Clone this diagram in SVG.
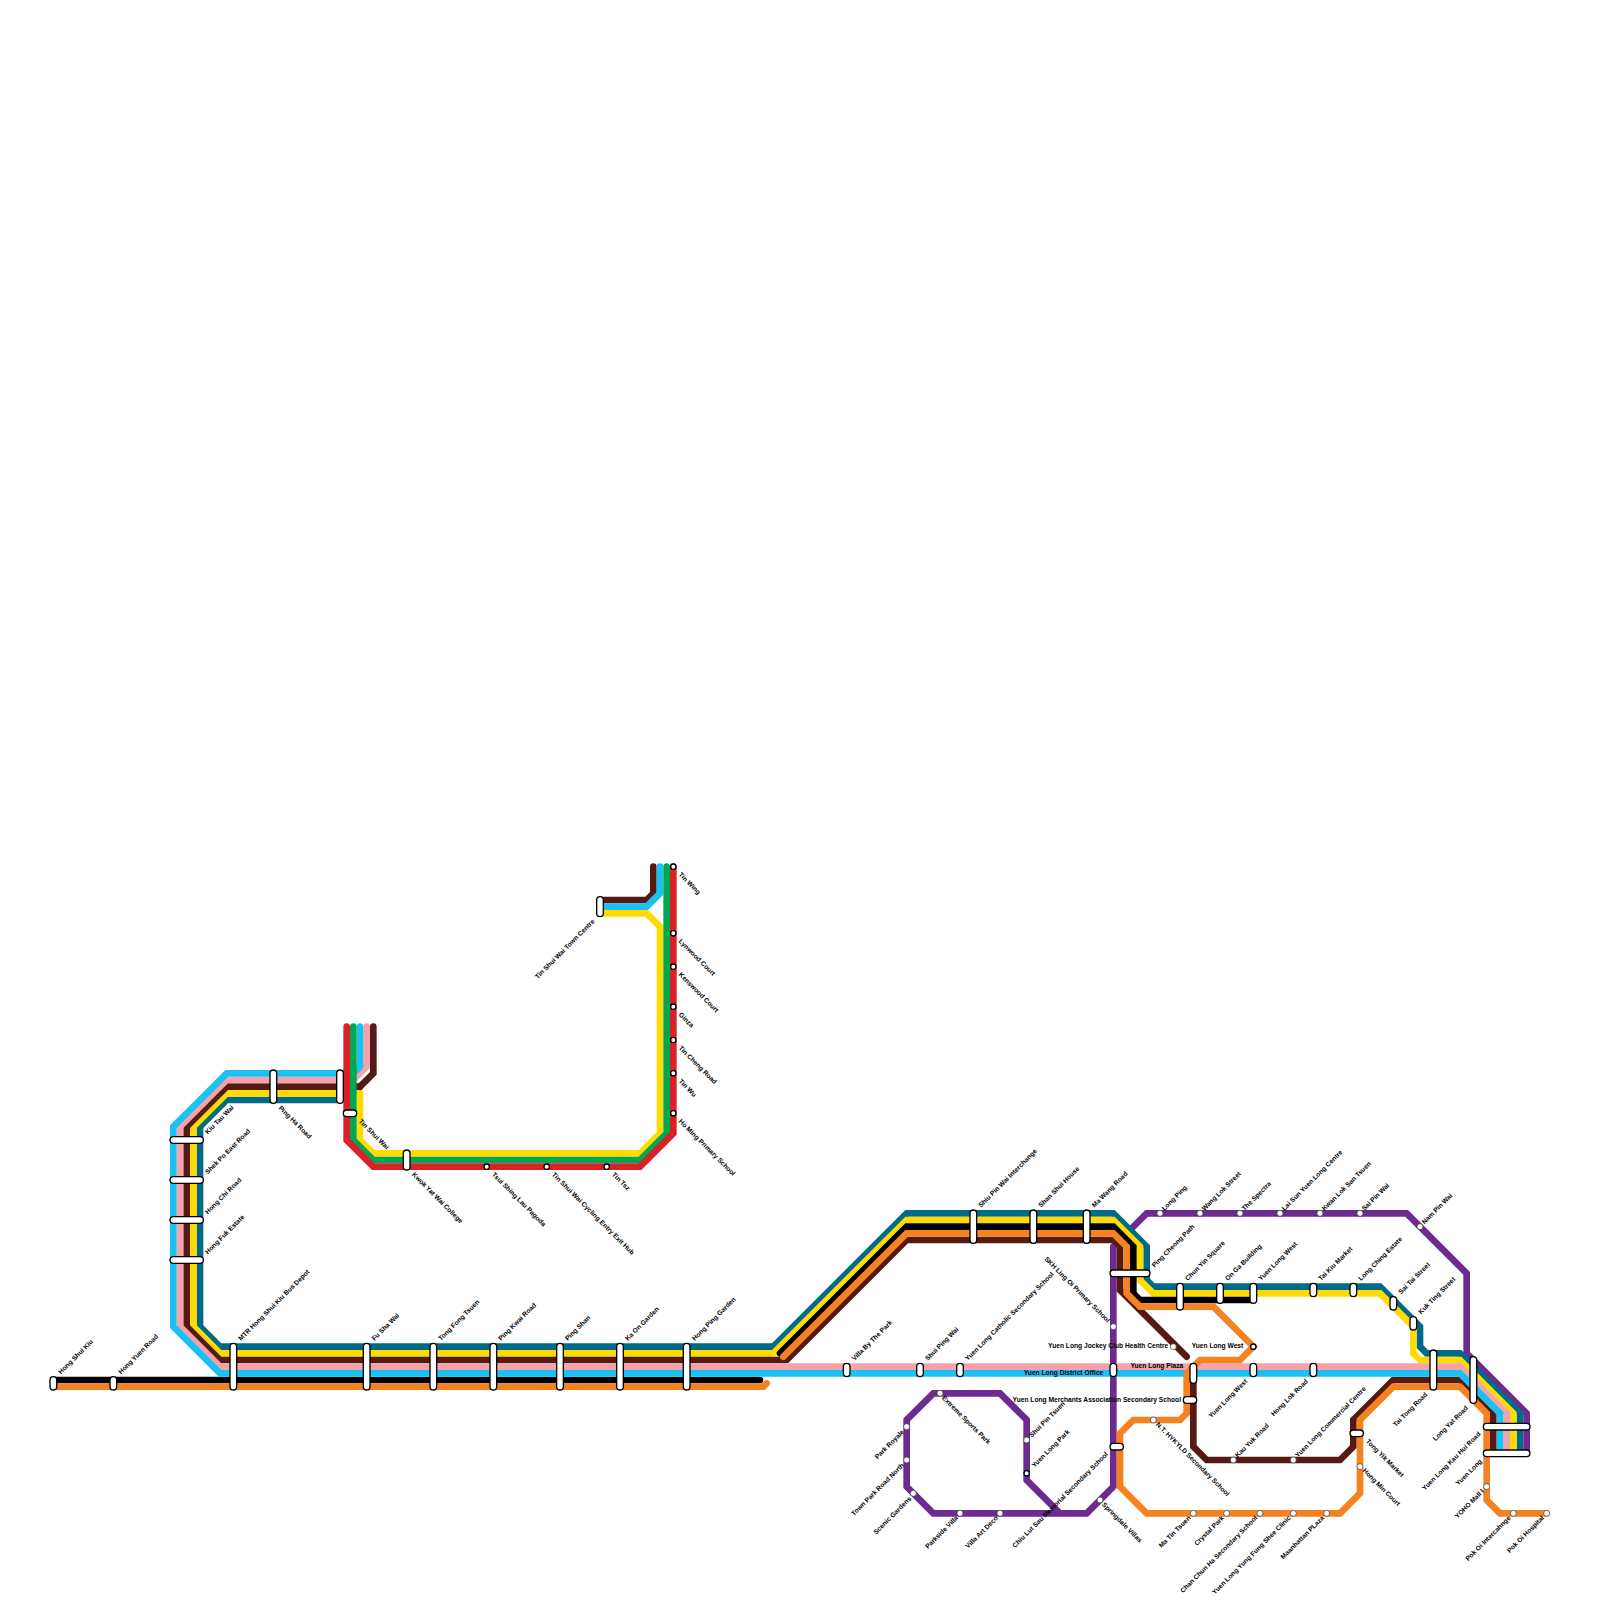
<svg xmlns="http://www.w3.org/2000/svg" width="1600" height="1600" viewBox="0 0 1600 1600">
<style>
.l{fill:none;stroke-width:6.67;stroke-linecap:round;stroke-linejoin:miter}
.teal{stroke:#006a87}.yellow{stroke:#ffdc00}.brown{stroke:#551a14}.black{stroke:#000}.pink{stroke:#f5a3ab}.cyan{stroke:#1bc1f3}.orange{stroke:#f58220}.purple{stroke:#6d2b90}.red{stroke:#da2128}.green{stroke:#00a651}
.st{fill:#fff;stroke:#000;stroke-width:1.33}
.t{fill:#fff;stroke:#333;stroke-width:.7}
text{font-family:"Liberation Sans",Arial,sans-serif;font-size:6.67px;font-weight:bold;fill:#000;dominant-baseline:central}
.e{text-anchor:end}
</style>
<rect width="1600" height="1600" fill="#fff"/>
<g id="connectors">
<polyline class="l purple" points="1130,1230 1146.67,1213.33 1406.67,1213.33 1466.67,1273.33 1466.67,1353.33 1526.67,1413.33 1526.67,1453.33"/>
<polyline class="l purple" points="1113.33,1246.67 1113.33,1486.67 1086.67,1513.33 933.33,1513.33 906.67,1486.67 906.67,1420 933.33,1393.33 1000,1393.33 1026.67,1420 1026.67,1480 1060,1513.33"/>
<polyline class="l teal" points="340,1100 226.67,1100 200,1126.67 200,1326.67 220,1346.67 773.33,1346.67 906.67,1213.33 1113.33,1213.33 1146.67,1246.67 1146.67,1280 1153.33,1286.67 1380,1286.67 1420,1326.67 1420,1346.67 1426.67,1353.33 1460,1353.33 1520,1413.33 1520,1453.33"/>
<polyline class="l yellow" points="360,1093.33 226.67,1093.33 193.33,1126.67 193.33,1326.67 220,1353.33 773.33,1353.33 906.67,1220 1113.33,1220 1140,1246.67 1140,1280 1153.33,1293.33 1380,1293.33 1413.33,1326.67 1413.33,1353.33 1420,1360 1460,1360 1513.33,1413.33 1513.33,1453.33"/>
<polyline class="l yellow" points="360,1093.33 360,1140 373.33,1153.33 640,1153.33 660,1133.33 660,926.67 646.67,913.33 600,913.33"/>
<polyline class="l brown" points="360,1086.67 226.67,1086.67 186.67,1126.67 186.67,1326.67 220,1360 786.67,1360 906.67,1240 1113.33,1240 1120,1246.67 1120,1290 1186.67,1356.67"/>
<polyline class="l brown" points="360,1086.67 373.33,1073.33 373.33,1026.67"/>
<polyline class="l brown" points="1193.33,1373.33 1193.33,1446.67 1206.67,1460 1340,1460 1353.33,1446.67 1353.33,1420 1393.33,1380 1460,1380 1493.33,1413.33 1493.33,1453.33"/>
<polyline class="l brown" points="600,900 646.67,900 653.33,893.33 653.33,866.67"/>
<polyline class="l black" points="53.33,1380 760,1380"/>
<polyline class="l black" points="780,1353.33 906.67,1226.67 1113.33,1226.67 1133.33,1246.67 1133.33,1293.33 1140,1300 1253.33,1300"/>
<polyline class="l pink" points="366.67,1026.67 366.67,1066.67 353.33,1080 226.67,1080 180,1126.67 180,1326.67 220,1366.67 1460,1366.67 1506.67,1413.33 1506.67,1453.33"/>
<polyline class="l cyan" points="360,1026.67 360,1066.67 353.33,1073.33 226.67,1073.33 173.33,1126.67 173.33,1326.67 220,1373.33 1460,1373.33 1500,1413.33 1500,1453.33"/>
<polyline class="l cyan" points="600,906.67 646.67,906.67 660,893.33 660,866.67"/>
<polyline class="l orange" points="53.33,1386.67 763.33,1386.67 766.67,1383.33"/>
<polyline class="l orange" points="783.33,1356.67 906.67,1233.33 1113.33,1233.33 1126.67,1246.67 1126.67,1293.33 1140,1306.67 1213.33,1306.67 1253.33,1346.67 1240,1360 1200,1360 1186.67,1373.33 1186.67,1413.33 1180,1420 1133.33,1420 1120,1433.33 1120,1486.67 1146.67,1513.33 1340,1513.33 1360,1493.33 1360,1420 1393.33,1386.67 1460,1386.67 1486.67,1413.33 1486.67,1500 1500,1513.33 1546.67,1513.33"/>
<polyline class="l green" points="353.33,1026.67 353.33,1140 373.33,1160 640,1160 666.67,1133.33 666.67,866.67"/>
<polyline class="l red" points="346.67,1026.67 346.67,1140 373.33,1166.67 640,1166.67 673.33,1133.33 673.33,866.67"/>
</g>
<g id="hong-shui-kiu"><rect class="st" x="50" y="1376.67" width="6.67" height="13.33" rx="3.33"/><text transform="translate(59.3 1372.7) rotate(-45)">Hong Shui Kiu</text></g>
<g id="hong-yuen-road"><rect class="st" x="110" y="1376.67" width="6.67" height="13.33" rx="3.33"/><text transform="translate(119.3 1372.7) rotate(-45)">Hong Yuen Road</text></g>
<g id="mtr-depot"><rect class="st" x="230" y="1343.33" width="6.67" height="46.67" rx="3.33"/><text transform="translate(239.3 1339.3) rotate(-45)">MTR Hong Shui Kiu Bus Depot</text></g>
<g id="fu-sha-wai"><rect class="st" x="363.33" y="1343.33" width="6.67" height="46.67" rx="3.33"/><text transform="translate(372.7 1339.3) rotate(-45)">Fu Sha Wai</text></g>
<g id="tong-fong-tsuen"><rect class="st" x="430" y="1343.33" width="6.67" height="46.67" rx="3.33"/><text transform="translate(439.3 1339.3) rotate(-45)">Tong Fong Tsuen</text></g>
<g id="ping-kwai-road"><rect class="st" x="490" y="1343.33" width="6.67" height="46.67" rx="3.33"/><text transform="translate(499.3 1339.3) rotate(-45)">Ping Kwai Road</text></g>
<g id="ping-shan"><rect class="st" x="556.67" y="1343.33" width="6.67" height="46.67" rx="3.33"/><text transform="translate(566 1339.3) rotate(-45)">Ping Shan</text></g>
<g id="ka-on-garden"><rect class="st" x="616.67" y="1343.33" width="6.67" height="46.67" rx="3.33"/><text transform="translate(626 1339.3) rotate(-45)">Ka On Garden</text></g>
<g id="hong-ping-garden"><rect class="st" x="683.33" y="1343.33" width="6.67" height="46.67" rx="3.33"/><text transform="translate(693 1339.3) rotate(-45)">Hong Ping Garden</text></g>
<g id="kiu-tau-wai"><rect class="st" x="170" y="1136.67" width="33.33" height="6.67" rx="3.33"/><text transform="translate(206 1132.7) rotate(-45)">Kiu Tau Wai</text></g>
<g id="shek-po-east-road"><rect class="st" x="170" y="1176.67" width="33.33" height="6.67" rx="3.33"/><text transform="translate(206 1172.7) rotate(-45)">Shek Po East Road</text></g>
<g id="hong-chi-road"><rect class="st" x="170" y="1216.67" width="33.33" height="6.67" rx="3.33"/><text transform="translate(206 1212.7) rotate(-45)">Hong Chi Road</text></g>
<g id="hong-fuk-estate"><rect class="st" x="170" y="1256.67" width="33.33" height="6.67" rx="3.33"/><text transform="translate(206 1252.7) rotate(-45)">Hong Fuk Estate</text></g>
<g id="ping-ha-road"><rect class="st" x="270" y="1070" width="6.67" height="33.33" rx="3.33"/><text transform="translate(280 1106.67) rotate(45)">Ping Ha Road</text></g>
<g id="unnamed-340"><rect class="st" x="336.67" y="1070" width="6.67" height="33.33" rx="3.33"/></g>
<g id="tin-shui-wai"><rect class="st" x="343.33" y="1110" width="13.33" height="6.67" rx="3.33"/><text transform="translate(360 1120) rotate(45)">Tin Shui Wai</text></g>
<g id="kwok-yat-wai-college"><rect class="st" x="403.33" y="1150" width="6.67" height="20" rx="3.33"/><text transform="translate(413.3 1173.3) rotate(45)">Kwok Yat Wai College</text></g>
<g id="tsui-shing-lau-pagoda"><circle class="st" cx="486.67" cy="1166.67" r="2.67"/><text transform="translate(493.3 1173.3) rotate(45)">Tsui Shing Lau Pagoda</text></g>
<g id="tsw-cycling-hub"><circle class="st" cx="546.67" cy="1166.67" r="2.67"/><text transform="translate(553.3 1173.3) rotate(45)">Tin Shui Wai Cycling Entry Exit Hub</text></g>
<g id="tin-tsz"><circle class="st" cx="606.67" cy="1166.67" r="2.67"/><text transform="translate(613.3 1173.3) rotate(45)">Tin Tsz</text></g>
<g id="tin-wing"><circle class="st" cx="673.33" cy="866.67" r="2.67"/><text transform="translate(680 873.3) rotate(45)">Tin Wing</text></g>
<g id="lynwood-court"><circle class="st" cx="673.33" cy="933.33" r="2.67"/><text transform="translate(680 940) rotate(45)">Lynwood Court</text></g>
<g id="kenswood-court"><circle class="st" cx="673.33" cy="966.67" r="2.67"/><text transform="translate(680 973.3) rotate(45)">Kenswood Court</text></g>
<g id="ginza"><circle class="st" cx="673.33" cy="1006.67" r="2.67"/><text transform="translate(680 1013.3) rotate(45)">Ginza</text></g>
<g id="tin-cheng-road"><circle class="st" cx="673.33" cy="1040" r="2.67"/><text transform="translate(680 1046.67) rotate(45)">Tin Cheng Road</text></g>
<g id="tin-wu"><circle class="st" cx="673.33" cy="1073.33" r="2.67"/><text transform="translate(680 1080) rotate(45)">Tin Wu</text></g>
<g id="ho-ming-primary"><circle class="st" cx="673.33" cy="1113.33" r="2.67"/><text transform="translate(680 1120) rotate(45)">Ho Ming Primary School</text></g>
<g id="tsw-town-centre"><rect class="st" x="596.67" y="896.67" width="6.67" height="20" rx="3.33"/><text class="e" transform="translate(593.3 920) rotate(-45)">Tin Shui Wai Town Centre</text></g>
<g id="villa-by-the-park"><rect class="st" x="843.33" y="1363.33" width="6.67" height="13.33" rx="3.33"/><text transform="translate(852.7 1359.3) rotate(-45)">Villa By The Park</text></g>
<g id="shui-ping-wai"><rect class="st" x="916.67" y="1363.33" width="6.67" height="13.33" rx="3.33"/><text transform="translate(926 1359.3) rotate(-45)">Shui Ping Wai</text></g>
<g id="yl-catholic"><rect class="st" x="956.67" y="1363.33" width="6.67" height="13.33" rx="3.33"/><text transform="translate(966 1359.3) rotate(-45)">Yuen Long Catholic Secondary School</text></g>
<g id="yl-district-office"><rect class="st" x="1110" y="1363.33" width="6.67" height="13.33" rx="3.33"/><text class="e" x="1103.3" y="1372.7">Yuen Long District Office</text></g>
<g id="shiu-pin-wai-interchange"><rect class="st" x="970" y="1210" width="6.67" height="33.33" rx="3.33"/><text transform="translate(979.3 1206) rotate(-45)">Shiu Pin Wai Interchange</text></g>
<g id="shan-shui-house"><rect class="st" x="1030" y="1210" width="6.67" height="33.33" rx="3.33"/><text transform="translate(1039.3 1206) rotate(-45)">Shan Shui House</text></g>
<g id="ma-wang-road"><rect class="st" x="1083.33" y="1210" width="6.67" height="33.33" rx="3.33"/><text transform="translate(1092.7 1206) rotate(-45)">Ma Wang Road</text></g>
<g id="skh-ling-oi"><circle class="t" cx="1113.33" cy="1326.67" r="3"/><text class="e" transform="translate(1109 1321) rotate(45)">SKH Ling Oi Primary School</text></g>
<g id="yl-jockey-club"><circle class="t" cx="1173.33" cy="1346.67" r="3"/><text class="e" x="1168.3" y="1345.7">Yuen Long Jockey Club Health Centre</text></g>
<g id="yl-west-orange"><circle class="st" cx="1253.33" cy="1346.67" r="2.67"/><text class="e" x="1243.3" y="1345.7">Yuen Long West</text></g>
<g id="yl-plaza"><rect class="st" x="1190" y="1363.33" width="6.67" height="20" rx="3.33"/><text class="e" x="1183.3" y="1365.7">Yuen Long Plaza</text></g>
<g id="yl-west-pink"><rect class="st" x="1250" y="1363.33" width="6.67" height="13.33" rx="3.33"/><text class="e" transform="translate(1246 1380) rotate(-45)">Yuen Long West</text></g>
<g id="hong-lok-road"><rect class="st" x="1310" y="1363.33" width="6.67" height="13.33" rx="3.33"/><text class="e" transform="translate(1306.67 1380) rotate(-45)">Hong Lok Road</text></g>
<g id="ping-cheong-path"><rect class="st" x="1110" y="1270" width="40" height="6.67" rx="3.33"/><text transform="translate(1152.7 1266) rotate(-45)">Ping Cheong Path</text></g>
<g id="chun-yin-square"><rect class="st" x="1176.67" y="1283.33" width="6.67" height="26.67" rx="3.33"/><text transform="translate(1186 1279.3) rotate(-45)">Chun Yin Square</text></g>
<g id="on-ga-building"><rect class="st" x="1216.67" y="1283.33" width="6.67" height="20" rx="3.33"/><text transform="translate(1226 1279.3) rotate(-45)">On Ga Building</text></g>
<g id="yl-west-teal"><rect class="st" x="1250" y="1283.33" width="6.67" height="20" rx="3.33"/><text transform="translate(1259.3 1279.3) rotate(-45)">Yuen Long West</text></g>
<g id="tai-kiu-market"><rect class="st" x="1310" y="1283.33" width="6.67" height="13.33" rx="3.33"/><text transform="translate(1319.3 1279.3) rotate(-45)">Tai Kiu Market</text></g>
<g id="long-ching-estate"><rect class="st" x="1350" y="1283.33" width="6.67" height="13.33" rx="3.33"/><text transform="translate(1359.3 1279.3) rotate(-45)">Long Ching Estate</text></g>
<g id="sai-tai-street"><rect class="st" x="1390" y="1296.67" width="6.67" height="13.33" rx="3.33"/><text transform="translate(1399.3 1292.7) rotate(-45)">Sai Tai Street</text></g>
<g id="kuk-ting-street"><rect class="st" x="1410" y="1316.67" width="6.67" height="13.33" rx="3.33"/><text transform="translate(1419.3 1312.7) rotate(-45)">Kuk Ting Street</text></g>
<g id="tai-tong-road"><rect class="st" x="1430" y="1350" width="6.67" height="40" rx="3.33"/><text class="e" transform="translate(1426 1393.3) rotate(-45)">Tai Tong Road</text></g>
<g id="long-yat-road"><rect class="st" x="1470" y="1356.67" width="6.67" height="46.67" rx="3.33"/><text class="e" transform="translate(1466.67 1406.67) rotate(-45)">Long Yat Road</text></g>
<g id="yl-kau-hui-road"><rect class="st" x="1483.33" y="1423.33" width="46.67" height="6.67" rx="3.33"/><text class="e" transform="translate(1479.3 1432.67) rotate(-45)">Yuen Long Kau Hui Road</text></g>
<g id="yuen-long"><rect class="st" x="1483.33" y="1450" width="46.67" height="6.67" rx="3.33"/><text class="e" transform="translate(1480.67 1460) rotate(-45)">Yuen Long</text></g>
<g id="tong-yik-market"><rect class="st" x="1350" y="1430" width="13.33" height="6.67" rx="3.33"/><text transform="translate(1367.3 1440) rotate(45)">Tong Yik Market</text></g>
<g id="hong-min-court"><circle class="t" cx="1360" cy="1466.67" r="3"/><text transform="translate(1364 1469.3) rotate(45)">Hong Min Court</text></g>
<g id="kau-yuk-road"><circle class="t" cx="1233.33" cy="1460" r="3"/><text transform="translate(1236 1456) rotate(-45)">Kau Yuk Road</text></g>
<g id="yl-commercial-centre"><circle class="t" cx="1293.33" cy="1460" r="3"/><text transform="translate(1296 1456) rotate(-45)">Yuen Long Commercial Centre</text></g>
<g id="nt-hykyld"><circle class="t" cx="1153.33" cy="1420" r="3"/><text transform="translate(1157.3 1423.3) rotate(45)">N.T. HYKYLD Secondary School</text></g>
<g id="yl-merchants"><rect class="st" x="1183.33" y="1396.67" width="13.33" height="6.67" rx="3.33"/><text class="e" x="1181" y="1399.3">Yuen Long Merchants Association Secondary School</text></g>
<g id="chiu-lut-sau"><rect class="st" x="1110" y="1443.33" width="13.33" height="6.67" rx="3.33"/><text class="e" transform="translate(1106.67 1453) rotate(-45)">Chiu Lut Sau Memorial Secondary School</text></g>
<g id="springdale-villas"><circle class="t" cx="1100" cy="1500" r="3"/><text transform="translate(1103.3 1503.3) rotate(45)">Springdale Villas</text></g>
<g id="ma-tin-tsuen"><circle class="t" cx="1193.33" cy="1513.33" r="3"/><text class="e" transform="translate(1189.3 1516.67) rotate(-45)">Ma Tin Tsuen</text></g>
<g id="crystal-park"><circle class="t" cx="1226.67" cy="1513.33" r="3"/><text class="e" transform="translate(1222.67 1516.67) rotate(-45)">Crystal Park</text></g>
<g id="chan-chun-ha"><circle class="t" cx="1260" cy="1513.33" r="3"/><text class="e" transform="translate(1256 1516.67) rotate(-45)">Chan Chun Ha Secondary School</text></g>
<g id="yung-fung-shee"><circle class="t" cx="1293.33" cy="1513.33" r="3"/><text class="e" transform="translate(1289.3 1516.67) rotate(-45)">Yuen Long Yung Fung Shee Clinic</text></g>
<g id="manhattan-plaza"><circle class="t" cx="1326.67" cy="1513.33" r="3"/><text class="e" transform="translate(1322.67 1516.67) rotate(-45)">Maanhattan PLaza</text></g>
<g id="extreme-sports-park"><circle class="t" cx="940" cy="1393.33" r="3"/><text transform="translate(943.3 1396.67) rotate(45)">Extreme Sports Park</text></g>
<g id="park-royale"><circle class="t" cx="906.67" cy="1426.67" r="3"/><text class="e" transform="translate(902.67 1430.67) rotate(-45)">Park Royale</text></g>
<g id="town-park-road-north"><circle class="t" cx="906.67" cy="1460" r="3"/><text class="e" transform="translate(902.67 1464) rotate(-45)">Town Park Road North</text></g>
<g id="scenic-gardens"><circle class="t" cx="913.33" cy="1493.33" r="3"/><text class="e" transform="translate(910 1497.3) rotate(-45)">Scenic Gardens</text></g>
<g id="parkside-villa"><circle class="t" cx="960" cy="1513.33" r="3"/><text class="e" transform="translate(956.67 1516.67) rotate(-45)">Parkside Villa</text></g>
<g id="villa-art-deco"><circle class="t" cx="1000" cy="1513.33" r="3"/><text class="e" transform="translate(996.67 1516.67) rotate(-45)">Villa Art Deco</text></g>
<g id="shui-pin-tsuen"><circle class="t" cx="1026.67" cy="1440" r="3"/><text transform="translate(1030 1436) rotate(-45)">Shui Pin Tsuen</text></g>
<g id="yuen-long-park"><circle class="st" cx="1026.67" cy="1473.33" r="2.67"/><text transform="translate(1032.7 1466) rotate(-45)">Yuen Long Park</text></g>
<g id="long-ping"><circle class="t" cx="1160" cy="1213.33" r="3"/><text transform="translate(1162.7 1209.3) rotate(-45)">Long Ping</text></g>
<g id="wang-lok-street"><circle class="t" cx="1200" cy="1213.33" r="3"/><text transform="translate(1202.7 1209.3) rotate(-45)">Wang Lok Street</text></g>
<g id="the-spectra"><circle class="t" cx="1240" cy="1213.33" r="3"/><text transform="translate(1242.7 1209.3) rotate(-45)">The Spectra</text></g>
<g id="lai-sun"><circle class="t" cx="1280" cy="1213.33" r="3"/><text transform="translate(1282.7 1209.3) rotate(-45)">Lai Sun Yuen Long Centre</text></g>
<g id="kwan-lok-san-tsuen"><circle class="t" cx="1320" cy="1213.33" r="3"/><text transform="translate(1322.7 1209.3) rotate(-45)">Kwan Lok San Tsuen</text></g>
<g id="sai-pin-wai"><circle class="t" cx="1360" cy="1213.33" r="3"/><text transform="translate(1362.7 1209.3) rotate(-45)">Sai Pin Wai</text></g>
<g id="nam-pin-wai"><circle class="t" cx="1420" cy="1226.67" r="3"/><text transform="translate(1422.7 1222.7) rotate(-45)">Nam Pin Wai</text></g>
<g id="yoho-mall"><circle class="t" cx="1486.67" cy="1486.67" r="3"/><text class="e" transform="translate(1482.67 1490) rotate(-45)">YOHO Mall I</text></g>
<g id="pok-oi-interchange"><circle class="t" cx="1513.33" cy="1513.33" r="3"/><text class="e" transform="translate(1509.3 1516.67) rotate(-45)">Pok Oi Intercahnge</text></g>
<g id="pok-oi-hospital"><circle class="t" cx="1546.67" cy="1513.33" r="3"/><text class="e" transform="translate(1542.67 1516.67) rotate(-45)">Pok Oi Hospital</text></g>
</svg>
